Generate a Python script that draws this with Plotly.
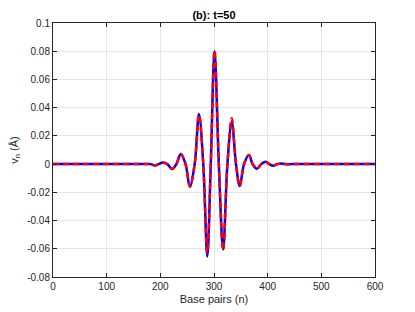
import plotly.graph_objects as go

# Base-pair index and displacement values (blue solid curve)
n_blue = [0, 170, 182, 190, 197, 205, 213, 222, 230, 238, 247, 255, 264, 272, 280, 287.5, 294, 301,
          309, 317, 325, 333, 341, 348, 356, 365, 372, 380, 388, 396, 403, 410, 418, 425, 432, 445, 600]
v_blue = [0, 0, 0, -0.001, 0, 0.0012, 0, -0.0035, 0, 0.0072, 0, -0.016, 0, 0.0355, 0, -0.0655, 0, 0.080,
          0, -0.0605, 0, 0.030, 0, -0.0155, 0, 0.0065, 0, -0.0033, 0, 0.0017, 0, -0.0012, 0, 0.0004, 0, 0, 0]

# Red dashed curve
n_red = [0, 170, 182, 190, 197, 205, 213, 222, 230, 238, 247, 255, 264, 272, 280, 287.5, 294, 301,
         309, 317, 325, 333, 341, 348, 356, 365, 372, 380, 388, 396, 403, 410, 418, 425, 432, 445, 600]
v_red = [0, 0, 0, -0.001, 0, 0.0012, 0, -0.0035, 0, 0.0072, 0, -0.0158, 0, 0.035, 0, -0.063, 0, 0.0805,
         0, -0.061, 0, 0.0325, 0, -0.0155, 0, 0.0065, 0, -0.0033, 0, 0.0017, 0, -0.0012, 0, 0.0004, 0, 0, 0]

x_ticks = [0, 100, 200, 300, 400, 500, 600]
x_ticklabels = ["0", "100", "200", "300", "400", "500", "600"]
y_ticks = [-0.08, -0.06, -0.04, -0.02, 0, 0.02, 0.04, 0.06, 0.08, 0.1]
y_ticklabels = ["-0.08", "-0.06", "-0.04", "-0.02", "0", "0.02", "0.04", "0.06", "0.08", "0.1"]

fig = go.Figure()
fig.add_trace(go.Scatter(x=n_blue, y=v_blue, mode="lines",
                         line=dict(color="#0000ff", width=2.5, shape="spline", smoothing=1.0)))
fig.add_trace(go.Scatter(x=n_red, y=v_red, mode="lines",
                         line=dict(color="#ff0000", width=2.5, dash="6px,4px", shape="spline", smoothing=1.0)))

axis_common = dict(showline=True, linecolor="#262626", linewidth=1, mirror="ticks",
                   ticks="inside", ticklen=4, tickcolor="#262626", automargin=False,
                   showgrid=True, gridcolor="#e6e6e6", gridwidth=1, zeroline=False,
                   tickfont=dict(family="Liberation Sans, Arial", size=10, color="#262626"))

fig.update_layout(
    width=415, height=312,
    margin=dict(l=45, r=48, t=15, b=43),
    paper_bgcolor="white", plot_bgcolor="white",
    showlegend=False,
    title=dict(text="<b>(b): t=50</b>", xref="paper", x=0.5, xanchor="center",
               yref="container", y=1 - 7 / 312, yanchor="middle",
               font=dict(family="Liberation Sans, Arial", size=11, color="#000000")),
    xaxis=dict(range=[0, 600], tickvals=x_ticks, ticktext=x_ticklabels,
               title=dict(text="Base pairs (n)", standoff=4,
                          font=dict(family="Liberation Sans, Arial", size=11, color="#262626")),
               **axis_common),
    yaxis=dict(range=[-0.08, 0.1], tickvals=y_ticks, ticktext=y_ticklabels,
               title=dict(text="v<sub>n</sub> (Å)", standoff=8,
                          font=dict(family="Liberation Sans, Arial", size=11, color="#262626")),
               **axis_common),
)

fig.write_html("out.html")
